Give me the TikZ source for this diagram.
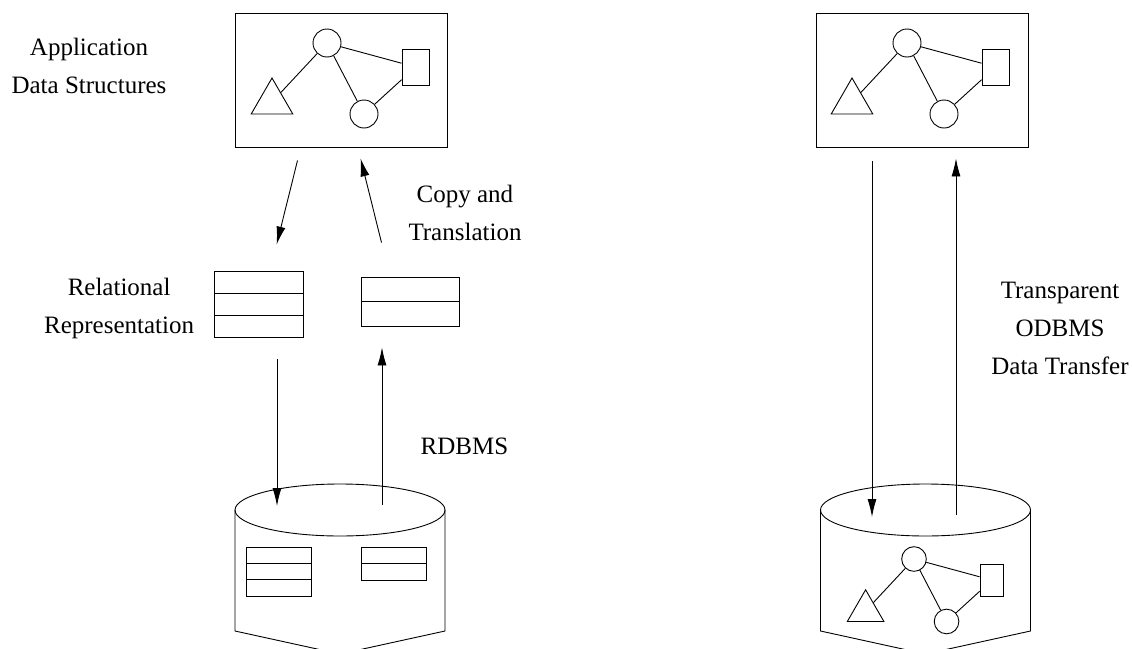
\documentclass[tikz,border=0pt]{standalone}
\usepackage{fontspec}
\setmainfont{Liberation Serif}
\usepackage{tikz}
\usetikzlibrary{arrows.meta}
\usetikzlibrary{calc}
\usetikzlibrary{positioning}
\usetikzlibrary{shapes.geometric}

\tikzset{
  box/.style={draw, rectangle, minimum width=212pt, minimum height=134pt, inner sep=0pt},
  vertex/.style={draw, circle, minimum size=28pt, inner sep=0pt},
  recnode/.style={draw, rectangle, minimum width=27pt, minimum height=36pt, inner sep=0pt},
  trinode/.style={draw, regular polygon, regular polygon sides=3, minimum size=48pt, inner sep=0pt},
  tablerows/.style={draw, rectangle, inner sep=0pt,
    path picture={
      \foreach \k in {#1}
        \draw ($(path picture bounding box.north west)!\k!(path picture bounding box.south west)$)
        -- ($(path picture bounding box.north east)!\k!(path picture bounding box.south east)$);
    }},
  lbl/.style={align=center, inner sep=0pt, font=\fontsize{25}{38}\selectfont},
  arr/.style={-{Latex[length=18pt, width=9pt]}},
  rarr/.style={{Latex[length=18pt, width=9pt]}-},
  netgraph/.pic={
    \node [vertex] (-c1) at (0,0) {};
    \node [recnode] (-sq) at (88.5,24) {};
    \node [trinode] (-tri) at (-55,59) {};
    \node [vertex] (-c2) at (37,71) {};
    \draw (-c1) -- (-tri);
    \draw (-c1) -- (-sq);
    \draw (-c1) -- (-c2);
    \draw (-c2) -- (-sq);
  },
}

\begin{document}
\begin{tikzpicture}[x=1pt, y=-1pt, line width=0.9pt]

    \useasboundingbox (0,0) rectangle (1132,648);

    % relational side
    \node [box] (appA) at (341,80) {};
    \pic (netA) at (327,43) {netgraph};

    \node [tablerows={1/3,2/3}, minimum width=89pt, minimum height=66pt]
    (relA) at (258.5,304) {};
    \node [tablerows={1/2}, minimum width=98pt, minimum height=49pt]
    (relB) at (410,301.5) {};

    \begin{scope}
      \clip (0,0) rectangle (1132,648);
      \draw (340,510) ellipse [x radius=105, y radius=26];
      \draw (235,510) -- (235,631) -- (340,654) -- (445,631) -- (445,510);
      \draw (820.5,510) -- (820.5,631) -- (925.5,654) -- (1030.5,631) -- (1030.5,510);
      \draw (925.5,510) ellipse [x radius=105, y radius=26];
    \end{scope}

    \node [tablerows={1/3,2/3}, minimum width=65pt, minimum height=49pt]
    (dbTabA) at (278.5,571.5) {};
    \node [tablerows={1/2}, minimum width=65pt, minimum height=33pt]
    (dbTabB) at (393.5,563.5) {};

    \coordinate (dbLin) at (277,506);
    \coordinate (dbLout) at (382,505);

    \draw [arr, shorten <=13.4pt, shorten >=26.8pt]
    ($(appA.south west)+(66.2,0)$) -- ($(relA.north west)+(56.6,0)$);
    \draw [rarr, shorten <=11.3pt, shorten >=35pt]
    ($(appA.south west)+(123.3,0)$) -- ($(relB.north west)+(29.4,0)$);

    \draw [arr] ($(relA.south -| dbLin)+(0,22)$) -- (dbLin);
    \draw [rarr] ($(relB.south -| dbLout)+(0,21)$) -- (dbLout);

    % object side
    \node [box] (appB) at (922,80) {};
    \pic (netB) at (907,43) {netgraph};
    \pic [scale=0.88, transform shape] (netC) at (914,559) {netgraph};

    \coordinate (dbRin) at (872,517);
    \coordinate (dbRout) at (956,515);

    \draw [arr] ($(appB.south -| dbRin)+(0,14)$) -- (dbRin);
    \draw [rarr] ($(appB.south -| dbRout)+(0,11)$) -- (dbRout);

    % labels
    \node [lbl] (appLbl) at (89,66) {Application\\Data Structures};
    \node [lbl, left=19pt of relA, yshift=-4pt] (relLbl) {Relational\\Representation};
    \node [lbl] (copyLbl) at (465,213) {Copy and\\Translation};
    \node [lbl] (rdbLbl) at (464.5,446) {RDBMS};
    \node [lbl] (odbLbl) at (1060,328.5) {Transparent\\ODBMS\\Data Transfer};

\end{tikzpicture}
\end{document}
